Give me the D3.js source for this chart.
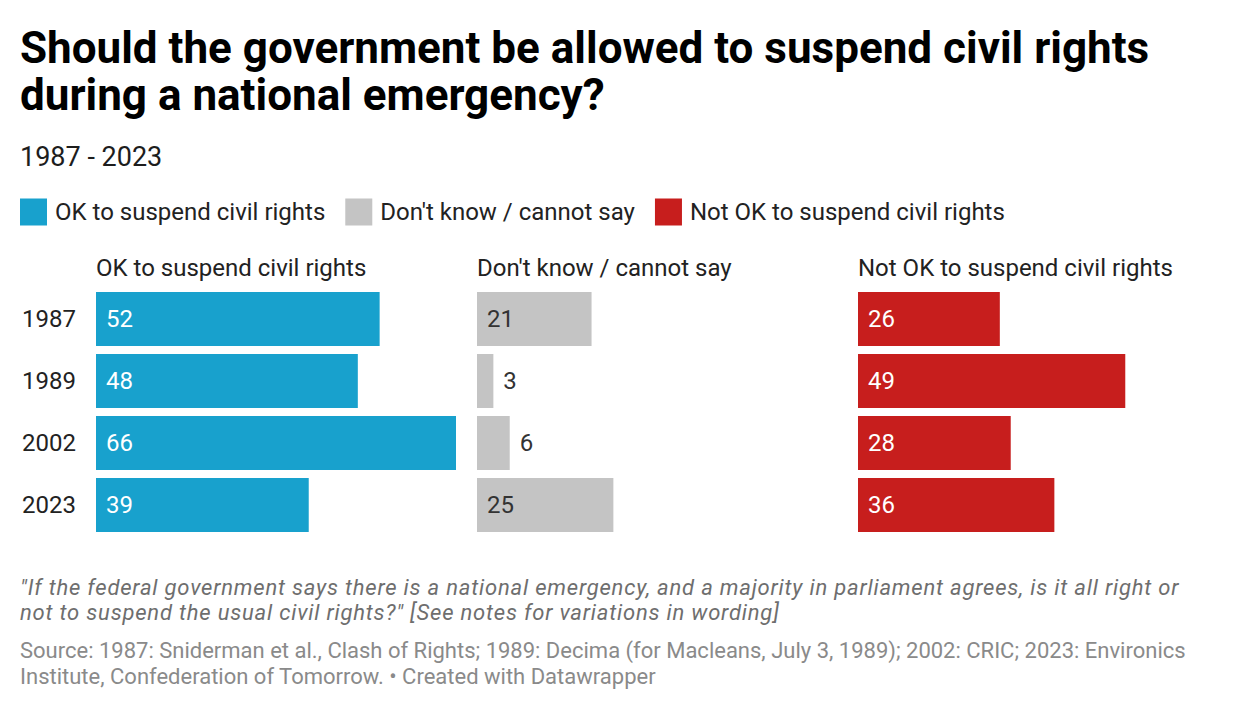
<!DOCTYPE html>
<html>
<head>
<meta charset="utf-8">
<script src="https://cdn.jsdelivr.net/npm/d3@7"></script>
<style>
  body { margin: 0; background: #fff; }
  svg { display: block; font-family: Roboto, "Noto Sans", sans-serif; }
</style>
</head>
<body>
<div id="chart"></div>
<script>
// data
var years = ["1987", "1989", "2002", "2023"];
var seriesNames = ["OK to suspend civil rights", "Don't know / cannot say", "Not OK to suspend civil rights"];
var okValues = [52, 48, 66, 39];
var dontKnowValues = [21, 3, 6, 25];
var notOkValues = [26, 49, 28, 36];
var seriesColors = ["#18a1cd", "#c4c4c4", "#c71e1d"];
var insideTextColors = ["#ffffff", "#333333", "#ffffff"];

var titleLines = ["Should the government be allowed to suspend civil rights",
                  "during a national emergency?"];
var subtitle = "1987 - 2023";
var noteLines = ["\"If the federal government says there is a national emergency, and a majority in parliament agrees, is it all right or",
                 "not to suspend the usual civil rights?\" [See notes for variations in wording]"];
var sourceLines = ["Source: 1987: Sniderman et al., Clash of Rights; 1989: Decima (for Macleans, July 3, 1989); 2002: CRIC; 2023: Environics",
                   "Institute, Confederation of Tomorrow. \u2022 Created with Datawrapper"];

var width = 1240, height = 710;

var svg = d3.select("#chart")
    .append("svg")
    .attr("width", width)
    .attr("height", height);

// Title
svg.append("g").selectAll("text").data(titleLines).enter()
    .append("text")
    .attr("x", 20)
    .attr("y", (d, i) => 63 + i * 47)
    .style("font-size", "44px")
    .style("font-weight", 700)
    .style("fill", "#000")
    .text(d => d);

// Subtitle
svg.append("text")
    .attr("x", 20)
    .attr("y", 166)
    .style("font-size", "27px")
    .style("fill", "#1d1d1d")
    .text(subtitle);

// Legend
var legend = svg.append("g");
var lx = 20;
seriesNames.forEach(function(name, i) {
    legend.append("rect")
        .attr("x", lx)
        .attr("y", 198.5)
        .attr("width", 27)
        .attr("height", 27)
        .attr("fill", seriesColors[i]);
    var t = legend.append("text")
        .attr("x", lx + 35)
        .attr("y", 220)
        .style("font-size", "24px")
        .style("fill", "#222")
        .text(name);
    lx += 35 + t.node().getComputedTextLength() + 20;
});

// scales shared by the three panels
var y = d3.scaleBand()
    .domain(years)
    .range([292, 532])
    .paddingInner(8 / 62)
    .paddingOuter(0);

var x = d3.scaleLinear()
    .domain([0, 66])
    .range([0, 360]);

var panelX = d3.scalePoint()
    .domain([0, 1, 2])
    .range([96, 858]);

// Year labels
svg.append("g").selectAll("text").data(years).enter()
    .append("text")
    .attr("x", 22)
    .attr("y", d => y(d) + y.bandwidth() / 2)
    .attr("dy", "0.35em")
    .style("font-size", "24px")
    .style("fill", "#222")
    .text(d => d);

var allSeries = [okValues, dontKnowValues, notOkValues];

allSeries.forEach(function(vals, s) {
    var px = panelX(s);
    var g = svg.append("g").attr("transform", `translate(${px},0)`);

    // panel header
    g.append("text")
        .attr("x", 0)
        .attr("y", 276)
        .style("font-size", "24px")
        .style("fill", "#222")
        .text(seriesNames[s]);

    var dat = years.map((yr, i) => ({year: yr, value: vals[i]}));

    g.selectAll("rect").data(dat).enter()
        .append("rect")
        .attr("x", x(0))
        .attr("y", d => y(d.year))
        .attr("width", d => x(d.value) - x(0))
        .attr("height", y.bandwidth())
        .attr("fill", seriesColors[s]);

    // value labels: inside the bar, or just after it when the bar is short
    g.selectAll("text.val").data(dat).enter()
        .append("text")
        .attr("class", "val")
        .attr("x", d => x(d.value) > 50 ? x(0) + 10 : x(d.value) + 10)
        .attr("y", d => y(d.year) + y.bandwidth() / 2)
        .attr("dy", "0.35em")
        .style("font-size", "24px")
        .style("fill", d => x(d.value) > 50 ? insideTextColors[s] : "#333")
        .text(d => d.value);
});

// Notes
svg.append("g").selectAll("text").data(noteLines).enter()
    .append("text")
    .attr("x", 20)
    .attr("y", (d, i) => 595 + i * 25)
    .style("font-size", "22px")
    .style("font-style", "italic")
    .style("letter-spacing", "0.8px")
    .style("fill", "#6e6e6e")
    .text(d => d);

// Source
svg.append("g").selectAll("text").data(sourceLines).enter()
    .append("text")
    .attr("x", 20)
    .attr("y", (d, i) => 658 + i * 26)
    .style("font-size", "22px")
    .style("fill", "#8a8a8a")
    .text(d => d);
</script>
</body>
</html>
